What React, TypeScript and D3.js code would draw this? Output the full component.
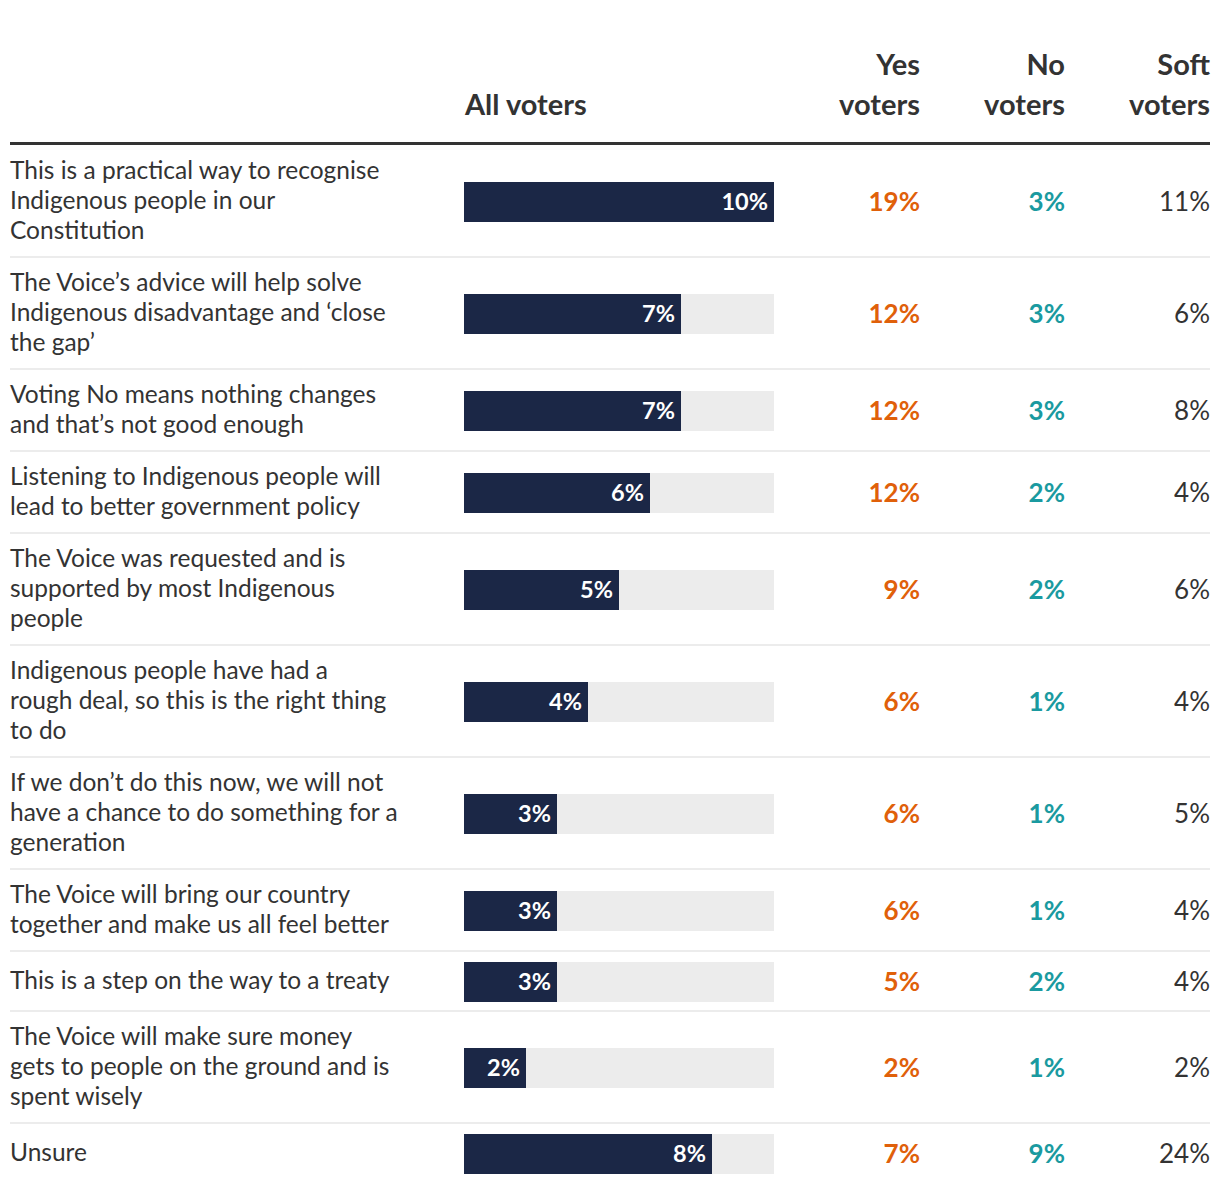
import { useEffect, useRef } from 'react'
import * as d3 from 'd3'

// Reasons, pre-wrapped as in the original table
const reasons: string[][] = [
  ['This is a practical way to recognise', 'Indigenous people in our', 'Constitution'],
  ['The Voice\u2019s advice will help solve', 'Indigenous disadvantage and \u2018close', 'the gap\u2019'],
  ['Voting No means nothing changes', 'and that\u2019s not good enough'],
  ['Listening to Indigenous people will', 'lead to better government policy'],
  ['The Voice was requested and is', 'supported by most Indigenous', 'people'],
  ['Indigenous people have had a', 'rough deal, so this is the right thing', 'to do'],
  ['If we don\u2019t do this now, we will not', 'have a chance to do something for a', 'generation'],
  ['The Voice will bring our country', 'together and make us all feel better'],
  ['This is a step on the way to a treaty'],
  ['The Voice will make sure money', 'gets to people on the ground and is', 'spent wisely'],
  ['Unsure'],
]

const allVoters = [10, 7, 7, 6, 5, 4, 3, 3, 3, 2, 8]
const yesVoters = [19, 12, 12, 12, 9, 6, 6, 6, 5, 2, 7]
const noVoters = [3, 3, 3, 2, 2, 1, 1, 1, 2, 1, 9]
const softVoters = [11, 6, 8, 4, 6, 4, 5, 4, 4, 2, 24]

const columnHeads = [
  ['Yes', 'voters'],
  ['No', 'voters'],
  ['Soft', 'voters'],
]

const FONT = 'Lato, "Noto Sans", sans-serif'

export default function App() {
  const svgRef = useRef<SVGSVGElement>(null)

  useEffect(() => {
    if (!svgRef.current) return
    const svg = d3.select(svgRef.current)
    svg.selectAll('*').remove()

    const width = 1220
    const left = 10
    const right = 1210
    const barX = 464
    const barW = 310
    const colRight = [920, 1065, 1210]
    const colColors = ['#e0600a', '#1a9aa0', '#333333']
    const colWeights = ['bold', 'bold', 'normal']
    const lineH = 30

    const x = d3.scaleLinear().domain([0, 10]).range([0, barW])

    // header
    const head = svg.append('g').style('font-family', FONT).attr('fill', '#333')
    head.append('text')
      .attr('x', 465).attr('y', 115)
      .attr('font-size', 29).attr('font-weight', 'bold')
      .text('All voters')
    columnHeads.forEach((lines, i) => {
      lines.forEach((l, j) => {
        head.append('text')
          .attr('x', colRight[i]).attr('y', 75 + j * 40)
          .attr('text-anchor', 'end')
          .attr('font-size', 29).attr('font-weight', 'bold')
          .text(l)
      })
    })
    svg.append('rect')
      .attr('x', left).attr('y', 142).attr('width', right - left).attr('height', 3)
      .attr('fill', '#333')

    // rows
    let top = 146
    reasons.forEach((lines, i) => {
      const h = Math.max(lines.length * lineH + 22, 60)
      const mid = top + h / 2
      const g = svg.append('g').style('font-family', FONT)

      if (i > 0) {
        g.append('rect')
          .attr('x', left).attr('y', top - 2).attr('width', right - left).attr('height', 2)
          .attr('fill', '#ececec')
      }

      const textTop = mid - (lines.length * lineH) / 2
      lines.forEach((l, j) => {
        g.append('text')
          .attr('x', left).attr('y', textTop + j * lineH + lineH / 2 - 1.5)
          .attr('dy', '0.35em')
          .attr('font-size', 24.5).attr('fill', '#333')
          .text(l)
      })

      g.append('rect')
        .attr('x', barX).attr('y', mid - 20).attr('width', barW).attr('height', 40)
        .attr('fill', '#ececec')
      g.append('rect')
        .attr('x', barX).attr('y', mid - 20).attr('width', x(allVoters[i])).attr('height', 40)
        .attr('fill', '#1b2746')
      g.append('text')
        .attr('x', barX + x(allVoters[i]) - 6).attr('y', mid)
        .attr('dy', '0.35em').attr('text-anchor', 'end')
        .attr('font-size', 23.5).attr('font-weight', 'bold').attr('fill', '#fff')
        .text(`${allVoters[i]}%`)

      ;[yesVoters, noVoters, softVoters].forEach((vals, c) => {
        g.append('text')
          .attr('x', colRight[c]).attr('y', mid)
          .attr('dy', '0.35em').attr('text-anchor', 'end')
          .attr('font-size', 26).attr('font-weight', colWeights[c]).attr('fill', colColors[c])
          .text(`${vals[i]}%`)
      })

      top += h
    })

    svg.attr('width', width).attr('height', 1192)
  }, [])

  return (
    <div style={{ position: 'absolute', left: 0, top: 0, background: '#fff' }}>
      <svg ref={svgRef} width={1220} height={1192} style={{ display: 'block' }} />
    </div>
  )
}
